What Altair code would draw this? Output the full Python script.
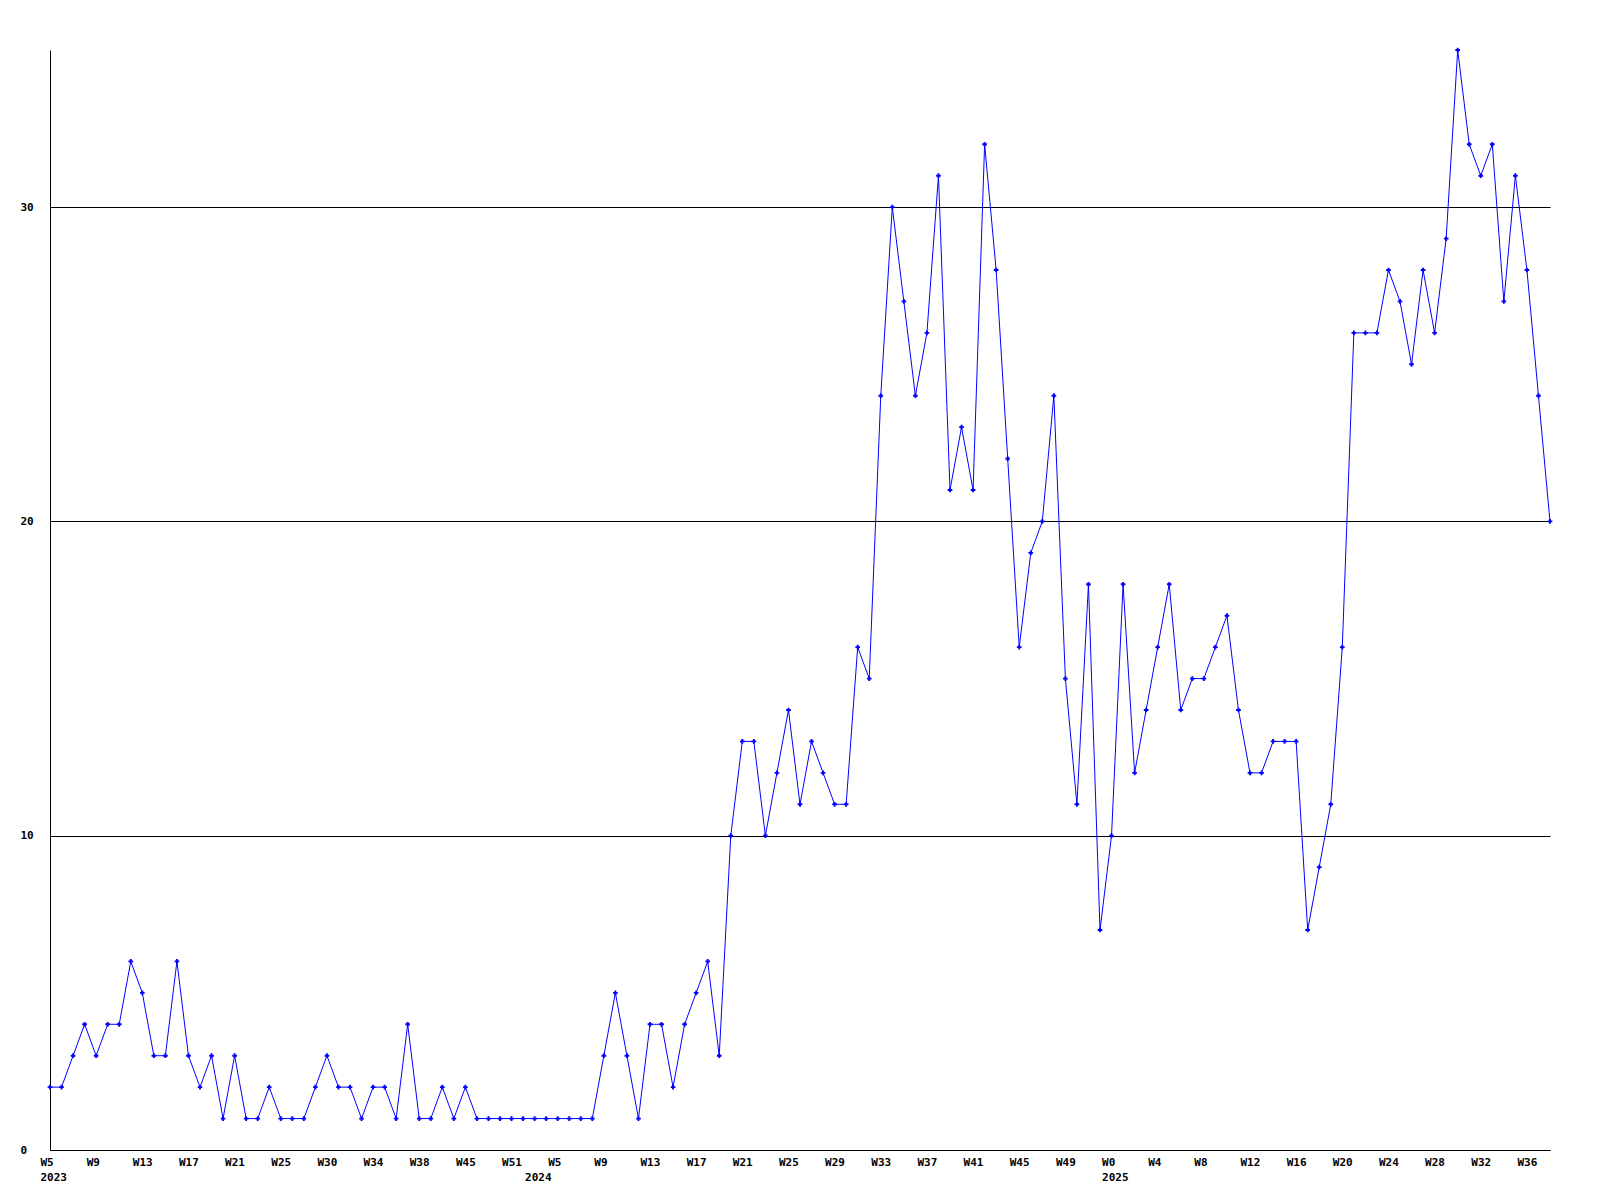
import json
import altair as alt
import pandas as pd

# Weekly counts, W5 2023 .. W37 2025 (131 points)
values = [
    2, 2, 3, 4, 3, 4, 4, 6, 5, 3, 3, 6, 3, 2, 3, 1, 3, 1, 1, 2, 1, 1, 1, 2, 3, 2, 2, 1, 2, 2, 1, 4, 1,
    1, 2, 1, 2, 1, 1, 1, 1, 1, 1, 1, 1, 1, 1, 1, 3, 5, 3, 1, 4, 4, 2, 4, 5, 6, 3,
    10, 13, 13, 10, 12, 14, 11, 13, 12, 11, 11, 16, 15,
    24, 30, 27, 24, 26, 31, 21, 23, 21, 32, 28, 22,
    16, 19, 20, 24, 15, 11, 18, 7, 10, 18, 12, 14, 16, 18, 14, 15, 15, 16, 17, 14, 12, 12, 13, 13, 13, 7, 9, 11,
    16,
    26, 26, 26, 28, 27, 25, 28, 26, 29, 35, 32, 31, 32, 27, 31, 28, 24, 20,
]

week_pos = [0, 4, 8, 12, 16, 20, 24, 28, 32, 36, 40, 44, 48, 52, 56, 60, 64, 68, 72,
            76, 80, 84, 88, 92, 96, 100, 104, 108, 112, 116, 120, 124, 128]
week_text = ["W5", "W9", "W13", "W17", "W21", "W25", "W30", "W34", "W38", "W45", "W51",
             "W5", "W9", "W13", "W17", "W21", "W25", "W29", "W33", "W37", "W41", "W45",
             "W49", "W0", "W4", "W8", "W12", "W16", "W20", "W24", "W28", "W32", "W36"]
year_pos = [0, 42, 92]
year_text = ["2023", "2024", "2025"]

y_ticks = [0, 10, 20, 30]

df = pd.DataFrame({"i": list(range(len(values))), "v": values})

tick_vals = sorted(set(week_pos) | set(year_pos))
lines = []
for t in tick_vals:
    w = week_text[week_pos.index(t)] if t in week_pos else " "
    if t in year_pos:
        lines.append([w, year_text[year_pos.index(t)]])
    else:
        lines.append([w])
label_expr = f"{json.dumps(lines)}[indexof({json.dumps(tick_vals)}, datum.value)]"

FONT = "DejaVu Sans Mono"
BLUE = "#0000ff"

x_enc = alt.X(
    "i:Q",
    scale=alt.Scale(domain=[0, len(values) - 1], nice=False, zero=False),
    axis=alt.Axis(
        values=tick_vals, labelExpr=label_expr, title=None, grid=False,
        ticks=False, tickSize=0, domainColor="black", domainWidth=1,
        labelAlign="left", labelOffset=-10, labelBaseline="top", labelPadding=6,
        labelFont=FONT, labelFontWeight="bold", labelFontSize=11, labelColor="black",
        labelLineHeight=15, labelOverlap=False, labelFlush=False, labelBound=False,
    ),
)
y_enc = alt.Y(
    "v:Q",
    scale=alt.Scale(domain=[0, 35], nice=False, zero=True),
    axis=alt.Axis(
        values=y_ticks, title=None, grid=True, gridColor="black", gridOpacity=1,
        gridWidth=1, ticks=False, tickSize=0, domainColor="black", domainWidth=1,
        labelAlign="left", labelBaseline="middle", labelPadding=30,
        labelFont=FONT, labelFontWeight="bold", labelFontSize=11, labelColor="black",
        labelOverlap=False, labelFlush=False,
    ),
)

line = alt.Chart(df).mark_line(color=BLUE, strokeWidth=1).encode(x=x_enc, y=y_enc)
pts = alt.Chart(df).mark_point(shape="cross", filled=True, size=22, color=BLUE, opacity=1).encode(
    x="i:Q", y="v:Q"
)

chart = (
    alt.layer(line, pts)
    .properties(
        width=1500, height=1100, autosize="none",
        padding={"left": 42, "top": 42, "right": 30, "bottom": 50},
        background="white",
    )
    .configure_view(stroke=None)
)

chart.save("out.html", embed_options={"renderer": "svg", "actions": False})
